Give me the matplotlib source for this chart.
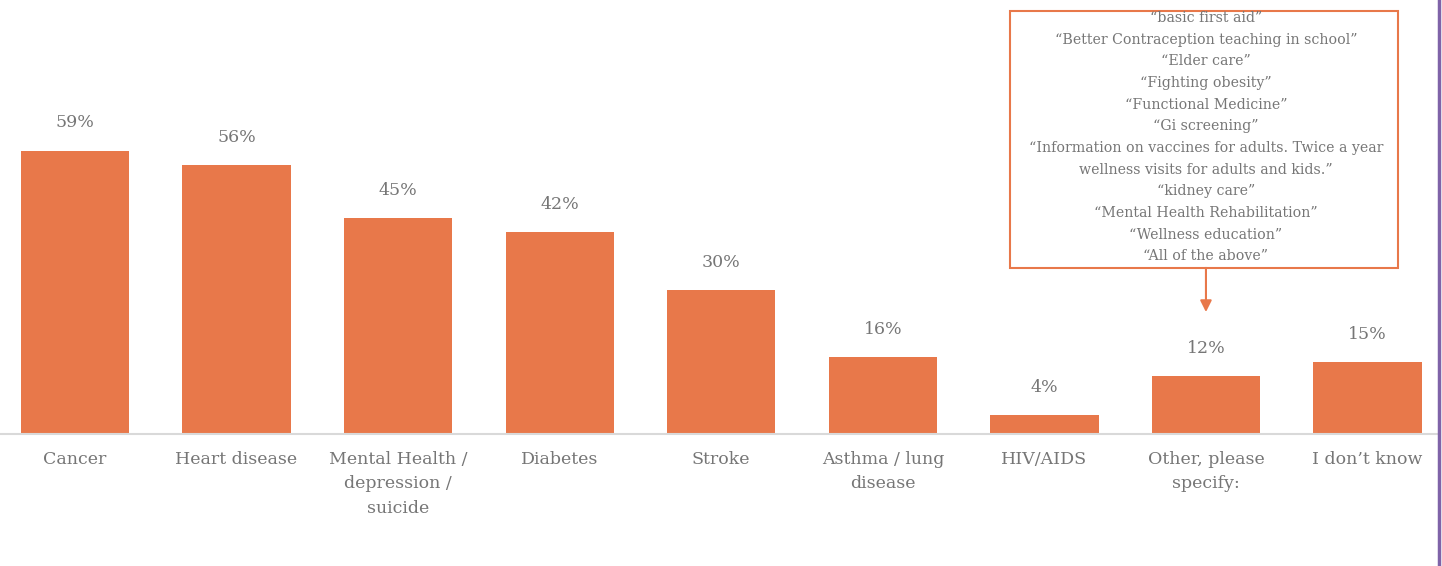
import matplotlib.pyplot as plt
from matplotlib.patches import Rectangle
from matplotlib.lines import Line2D

# Health topics chart: share of respondents per topic
categories = [
    "Cancer", "Heart disease", "Mental Health /\ndepression /\nsuicide",
    "Diabetes", "Stroke", "Asthma / lung\ndisease", "HIV/AIDS",
    "Other, please\nspecify:", "I don\u2019t know",
]
values = [59, 56, 45, 42, 30, 16, 4, 12, 15]

other_answers = [
    "\u201cbasic first aid\u201d",
    "\u201cBetter Contraception teaching in school\u201d",
    "\u201cElder care\u201d",
    "\u201cFighting obesity\u201d",
    "\u201cFunctional Medicine\u201d",
    "\u201cGi screening\u201d",
    "\u201cInformation on vaccines for adults. Twice a year",
    "wellness visits for adults and kids.\u201d",
    "\u201ckidney care\u201d",
    "\u201cMental Health Rehabilitation\u201d",
    "\u201cWellness education\u201d",
    "\u201cAll of the above\u201d",
]

BAR = "#E8784A"
GREY = "#767676"

plt.rcParams['font.family'] = ['DejaVu Serif']

fig = plt.figure(figsize=(14.42, 5.66), dpi=100)
ax = fig.add_axes([0, 132 / 566, 1437 / 1442, 434 / 566])

x = list(range(len(categories)))
ax.bar(x, values, width=0.67, color=BAR)

for xi, v in zip(x, values):
    ax.annotate(f"{v}%", (xi, v), xytext=(0, 20), textcoords='offset points',
                ha='center', va='center', fontsize=12.5, color=GREY)

ax.set_xlim(-0.464, 8.43)
ax.set_ylim(0, 90.4)
ax.set_xticks(x)
ax.set_xticklabels(categories, fontsize=12.5, color=GREY, linespacing=1.6)
ax.tick_params(axis='x', length=0, pad=12)
ax.set_yticks([])
for side in ['top', 'left', 'right']:
    ax.spines[side].set_visible(False)
ax.spines['bottom'].set_color('#D9D9D9')
ax.spines['bottom'].set_linewidth(1.5)

# callout box listing the "Other" answers
other_idx = categories.index("Other, please\nspecify:")
box_top = 88.1
box_bottom = 34.6
ax.add_patch(Rectangle((5.79, box_bottom), 8.19 - 5.79, box_top - box_bottom,
                       fill=False, edgecolor=BAR, linewidth=1.5, clip_on=False))
step = 15.6
for i, line in enumerate(other_answers):
    ax.annotate(line, (other_idx, box_top), xytext=(0, -5 - i * step),
                textcoords='offset points', ha='center', va='center',
                fontsize=10.2, color=GREY, annotation_clip=False)

ax.annotate("", xy=(other_idx, 25.4), xytext=(other_idx, box_bottom),
            arrowprops=dict(arrowstyle='-|>', color=BAR, lw=1.5,
                            mutation_scale=17, shrinkA=0, shrinkB=0))

fig.add_artist(Line2D([1439 / 1442, 1439 / 1442], [0, 1], color="#7F63A8",
                      linewidth=2.5, transform=fig.transFigure))

fig.savefig("out.png", dpi=100)
